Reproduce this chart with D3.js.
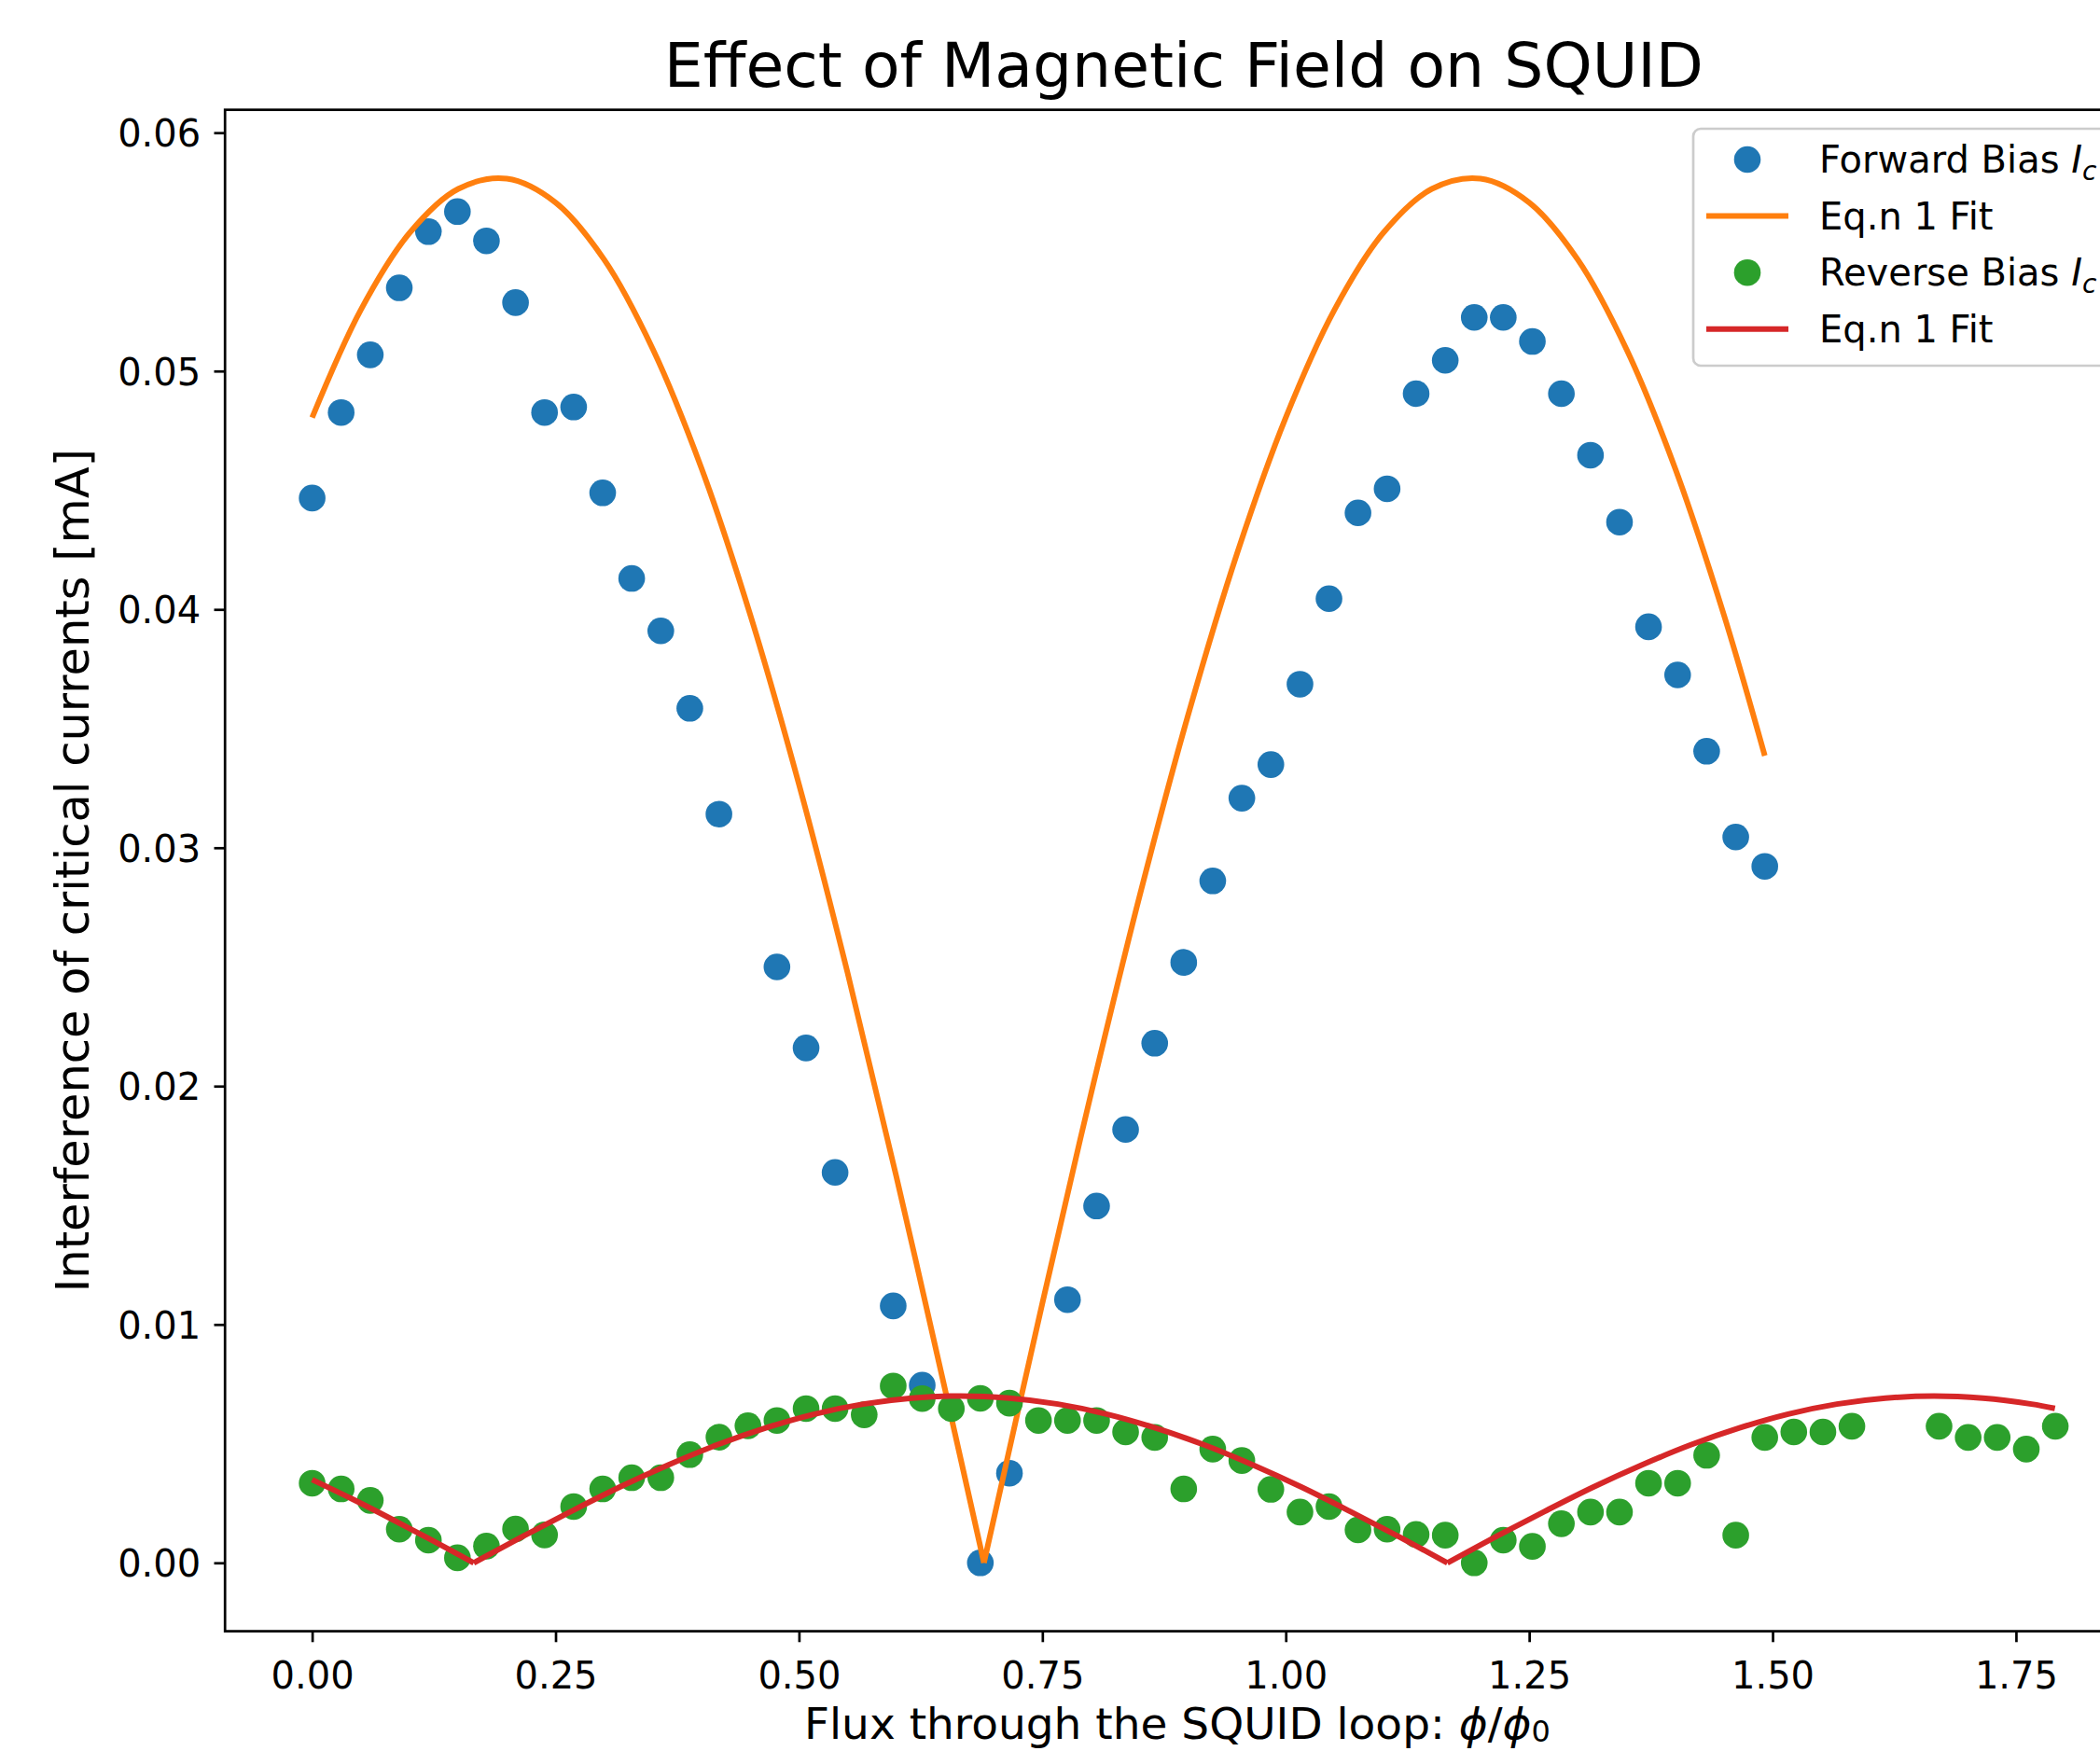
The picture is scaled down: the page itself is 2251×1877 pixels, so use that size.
<!DOCTYPE html>
<html>
<head>
<meta charset="utf-8">
<script src="https://cdn.jsdelivr.net/npm/d3@7"></script>
<style>
  body { margin: 0; background: #fff; }
  svg { display: block; font-family: "DejaVu Sans", sans-serif; }
</style>
</head>
<body>
<svg id="chart"></svg>
<script>
// flux values (phi/phi0) of the measurements
var flux = [0.0000, 0.0298, 0.0597, 0.0895, 0.1194, 0.1492, 0.1790, 0.2089, 0.2387, 0.2686,
            0.2984, 0.3282, 0.3581, 0.3879, 0.4178, 0.4476, 0.4774, 0.5073, 0.5371, 0.5670,
            0.5968, 0.6266, 0.6565, 0.6863, 0.7162, 0.7460, 0.7758, 0.8057, 0.8355, 0.8654,
            0.8952, 0.9250, 0.9549, 0.9847, 1.0146, 1.0444, 1.0742, 1.1041, 1.1339, 1.1638,
            1.1936, 1.2234, 1.2533, 1.2831, 1.3130, 1.3428, 1.3726, 1.4025, 1.4323, 1.4622,
            1.4920, 1.5218, 1.5517, 1.5815, 1.6114, 1.6412, 1.6710, 1.7009, 1.7307, 1.7606,
            1.7904];

// forward bias Ic [mA], null = no point
var forwardIc = [0.04467, 0.04826, 0.05068, 0.05349, 0.05585, 0.05669, 0.05546, 0.05287, 0.04826, 0.04849,
                 0.04489, 0.04130, 0.03910, 0.03585, 0.03141, null, 0.02500, 0.02160, 0.01638, null,
                 0.01078, 0.00745, null, 0.00000, 0.00376, null, 0.01104, 0.01497, 0.01818, 0.02180,
                 0.02519, 0.02861, 0.03208, 0.03349, 0.03686, 0.04045, 0.04405, 0.04506, 0.04905, 0.05045,
                 0.05225, 0.05225, 0.05124, 0.04905, 0.04647, 0.04366, 0.03927, 0.03725, 0.03405, 0.03045,
                 0.02922, null, null, null, null, null, null, null, null, null,
                 null];

// reverse bias Ic [mA]
var reverseIc = [0.00334, 0.00310, 0.00262, 0.00141, 0.00095, 0.00021, 0.00070, 0.00142, 0.00117, 0.00236,
                 0.00310, 0.00357, 0.00357, 0.00454, 0.00527, 0.00575, 0.00597, 0.00647, 0.00647, 0.00621,
                 0.00742, 0.00689, 0.00647, 0.00690, 0.00670, 0.00597, 0.00597, 0.00597, 0.00549, 0.00526,
                 0.00310, 0.00477, 0.00429, 0.00308, 0.00213, 0.00236, 0.00138, 0.00141, 0.00119, 0.00116,
                 0.00000, 0.00095, 0.00069, 0.00164, 0.00213, 0.00213, 0.00334, 0.00334, 0.00451, 0.00116,
                 0.00526, 0.00549, 0.00549, 0.00573, null, null, 0.00573, 0.00526, 0.00526, 0.00477,
                 0.00573];

// fit curves
var fitForwardX = [0, 0.05, 0.10, 0.15, 0.20, 0.25, 0.30, 0.35, 0.40, 0.45, 0.50, 0.55, 0.60, 0.65, 0.69,
                   0.75, 0.80, 0.85, 0.90, 0.95, 1.00, 1.05, 1.10, 1.15, 1.20, 1.25, 1.30, 1.35, 1.40, 1.45, 1.492];
var fitForwardY = [0.04805, 0.05257, 0.05579, 0.05764, 0.05807, 0.05707, 0.05467, 0.05091, 0.04591, 0.03977,
                   0.03266, 0.02474, 0.01621, 0.00728, 0,
                   0.01089, 0.01968, 0.02799, 0.03561, 0.04235, 0.04805, 0.05257, 0.05579, 0.05764, 0.05807,
                   0.05707, 0.05467, 0.05091, 0.04591, 0.03977, 0.03386];

var fitReverseX = [0, 0.04, 0.08, 0.12, 0.166, 0.216, 0.266, 0.316, 0.366, 0.416, 0.466, 0.516, 0.566, 0.616,
                   0.666, 0.716, 0.766, 0.816, 0.866, 0.916, 0.966, 1.016, 1.066, 1.116, 1.166, 1.216, 1.266,
                   1.316, 1.366, 1.416, 1.466, 1.516, 1.566, 1.616, 1.666, 1.716, 1.766, 1.790];
var fitReverseY = [0.00349, 0.00270, 0.00187, 0.00101, 0, 0.00110, 0.00216, 0.00318, 0.00411, 0.00495,
                   0.00566, 0.00624, 0.00666, 0.00691, 0.00700, 0.00691, 0.00666, 0.00624, 0.00566, 0.00495,
                   0.00411, 0.00318, 0.00216, 0.00110, 0, 0.00110, 0.00216, 0.00318, 0.00411, 0.00495,
                   0.00566, 0.00624, 0.00666, 0.00691, 0.00700, 0.00691, 0.00666, 0.00648];

var xTicks = [0, 0.25, 0.5, 0.75, 1.0, 1.25, 1.5, 1.75];
var yTicks = [0, 0.01, 0.02, 0.03, 0.04, 0.05, 0.06];

var width = 2251;
var height = 1877;

var blue = "#1f77b4", orange = "#ff7f0e", green = "#2ca02c", red = "#d62728";

var plot = { left: 241.2, top: 117.7, right: 2296.5, bottom: 1748.6 };

var svg = d3.select("#chart")
    .attr("width", width)
    .attr("height", height);

svg.append("rect")
    .attr("width", width)
    .attr("height", height)
    .attr("fill", "#fff");

var x = d3.scaleLinear()
    .domain([-0.0895, 1.8799])
    .range([plot.left, plot.right]);

var y = d3.scaleLinear()
    .domain([-0.00287, 0.06096])
    .range([plot.bottom, plot.top]);

// axes
var xAxis = svg.append("g")
    .attr("transform", "translate(0," + plot.bottom + ")")
    .call(d3.axisBottom(x).tickValues(xTicks).tickFormat(d3.format(".2f"))
      .tickSize(11.7).tickPadding(14));

var yAxis = svg.append("g")
    .attr("transform", "translate(" + plot.left + ",0)")
    .call(d3.axisLeft(y).tickValues(yTicks).tickFormat(d3.format(".2f"))
      .tickSize(11.7).tickPadding(14));

[xAxis, yAxis].forEach(function(a) {
  a.select(".domain").remove();
  a.selectAll(".tick line").attr("stroke", "#000").attr("stroke-width", 2.7);
  a.selectAll(".tick text")
    .attr("fill", "#000")
    .style("font-family", "DejaVu Sans")
    .style("font-size", "40px");
});
xAxis.selectAll(".tick text").attr("dy", null).attr("y", 61);
yAxis.selectAll(".tick text").attr("dy", "0.36em").attr("x", -26);

// spines
svg.append("rect")
    .attr("x", plot.left)
    .attr("y", plot.top)
    .attr("width", plot.right - plot.left)
    .attr("height", plot.bottom - plot.top)
    .attr("fill", "none")
    .attr("stroke", "#000")
    .attr("stroke-width", 2.7);

// split a fit line at its zero points so the kinks stay sharp
function segments(xs, ys) {
  var segs = [[]];
  xs.forEach(function(v, i) {
    var p = [v, ys[i]];
    segs[segs.length - 1].push(p);
    if (ys[i] === 0 && i > 0 && i < xs.length - 1) segs.push([p]);
  });
  return segs;
}

var line = d3.line()
    .x(function(d) { return x(d[0]); })
    .y(function(d) { return y(d[1]); })
    .curve(d3.curveCatmullRom.alpha(0.5));

function drawPoints(values, color) {
  svg.append("g")
    .selectAll("circle")
    .data(flux.map(function(f, i) { return [f, values[i]]; }).filter(function(d) { return d[1] !== null; }))
    .enter().append("circle")
      .attr("cx", function(d) { return x(d[0]); })
      .attr("cy", function(d) { return y(d[1]); })
      .attr("r", 14.3)
      .attr("fill", color);
}

function drawFit(xs, ys, color) {
  svg.append("g")
    .selectAll("path")
    .data(segments(xs, ys))
    .enter().append("path")
      .attr("d", line)
      .attr("fill", "none")
      .attr("stroke", color)
      .attr("stroke-width", 6)
      .attr("stroke-linejoin", "round");
}

drawPoints(forwardIc, blue);
drawFit(fitForwardX, fitForwardY, orange);
drawPoints(reverseIc, green);
drawFit(fitReverseX, fitReverseY, red);

// title and axis labels
svg.append("text")
    .attr("x", (plot.left + plot.right) / 2)
    .attr("y", 93)
    .attr("text-anchor", "middle")
    .style("font-size", "66.4px")
    .text("Effect of Magnetic Field on SQUID");

var xl = svg.append("text")
    .attr("x", 1262)
    .attr("y", 1864)
    .attr("text-anchor", "middle")
    .style("font-size", "47px");
xl.append("tspan").text("Flux through the SQUID loop: ");
xl.append("tspan").style("font-style", "italic").text("\u03d5");
xl.append("tspan").text("/");
xl.append("tspan").style("font-style", "italic").text("\u03d5");
xl.append("tspan").attr("dy", 3).style("font-size", "32px").text("0");

svg.append("text")
    .attr("transform", "translate(95," + (plot.top + plot.bottom) / 2 + ") rotate(-90)")
    .attr("text-anchor", "middle")
    .style("font-size", "49.5px")
    .text("Interference of critical currents [mA]");

// legend
var legendItems = [
  { label: "Forward Bias ", sub: true, color: blue, type: "dot" },
  { label: "Eq.n 1 Fit", sub: false, color: orange, type: "line" },
  { label: "Reverse Bias ", sub: true, color: green, type: "dot" },
  { label: "Eq.n 1 Fit", sub: false, color: red, type: "line" }
];

var legend = svg.append("g");

legend.append("rect")
    .attr("x", 1815)
    .attr("y", 138)
    .attr("width", 520)
    .attr("height", 254)
    .attr("rx", 8)
    .attr("fill", "#fff")
    .attr("fill-opacity", 0.8)
    .attr("stroke", "#cccccc")
    .attr("stroke-width", 2.7);

var item = legend.selectAll(".legend-item")
    .data(legendItems)
    .enter().append("g")
      .attr("class", "legend-item")
      .attr("transform", function(d, i) { return "translate(0," + (171 + i * 60.6) + ")"; });

item.filter(function(d) { return d.type === "dot"; })
  .append("circle")
    .attr("cx", 1873)
    .attr("cy", 0)
    .attr("r", 14.3)
    .attr("fill", function(d) { return d.color; });

item.filter(function(d) { return d.type === "line"; })
  .append("line")
    .attr("x1", 1829)
    .attr("x2", 1917)
    .attr("y1", 0)
    .attr("y2", 0)
    .attr("stroke", function(d) { return d.color; })
    .attr("stroke-width", 6);

var itemText = item.append("text")
    .attr("x", 1950)
    .attr("y", 14)
    .style("font-size", "40px");
itemText.append("tspan").text(function(d) { return d.label; });
itemText.filter(function(d) { return d.sub; })
  .append("tspan").style("font-style", "italic").text("I");
itemText.filter(function(d) { return d.sub; })
  .append("tspan").attr("dy", 8).style("font-size", "28px").style("font-style", "italic").text("c");
</script>
</body>
</html>
